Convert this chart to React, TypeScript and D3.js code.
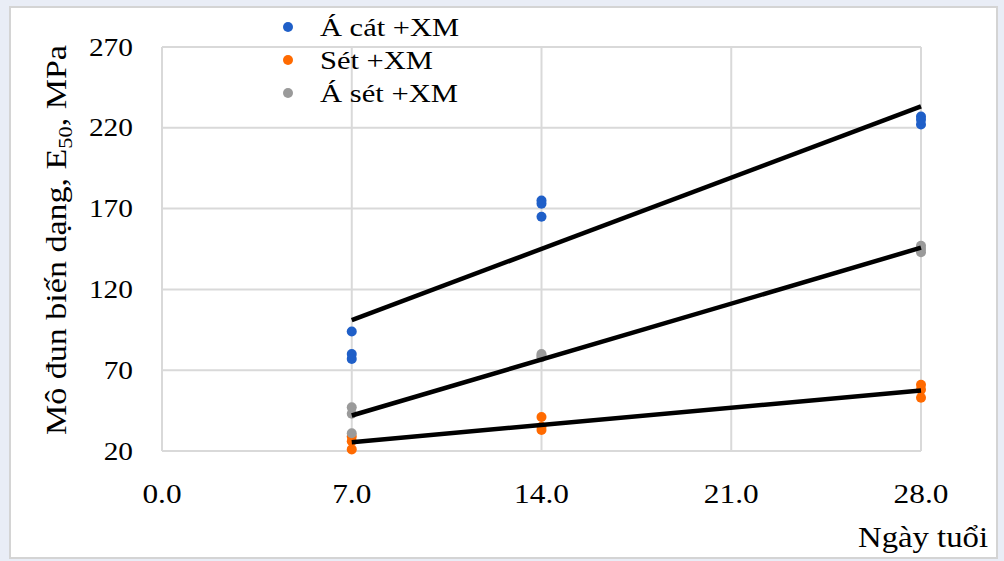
import * as d3 from "d3";

const ages = [7, 14, 28];
// three samples per age
const acatValues = [[94, 80, 77], [175, 173, 165], [227, 222, 225]];
const setValues = [[29, 26, 21], [41, 35, 33], [61, 58, 53]];
const asetValues = [[47, 43, 31], [80, 79, 78], [147, 145, 143]];

const seriesNames = ["Á cát +XM", "Sét +XM", "Á sét +XM"];
const seriesColors = ["#1f5fc8", "#ff6a00", "#9a9a9a"];
const legendWidths = [139, 113, 138];

const xTicks = [0, 7, 14, 21, 28];
const yTicks = [20, 70, 120, 170, 220, 270];

const width = 1004;
const height = 561;
const plot = { left: 162, right: 921, top: 47, bottom: 451 };
const sx = 1.13;

const txt = (size: number) => ({ fontFamily: "Liberation Serif", fontSize: `${size}px` });

type Pt = { x: number; y: number };

const toPoints = (vals: number[][]): Pt[] =>
  ages.flatMap((a, i) => vals[i].map((v) => ({ x: a, y: v })));

// least squares fit, like Excel's linear trendline
const fit = (pts: Pt[]) => {
  const mx = d3.mean(pts, (p) => p.x) ?? 0;
  const my = d3.mean(pts, (p) => p.y) ?? 0;
  const sxy = d3.sum(pts, (p) => (p.x - mx) * (p.y - my));
  const sxx = d3.sum(pts, (p) => (p.x - mx) ** 2);
  const slope = sxy / sxx;
  return (x: number) => my + slope * (x - mx);
};

const x = d3.scaleLinear().domain([0, 28]).range([plot.left, plot.right]);
const y = d3.scaleLinear().domain([20, 270]).range([plot.bottom, plot.top]);
const line = d3
  .line<Pt>()
  .x((d) => x(d.x))
  .y((d) => y(d.y));

const series = [acatValues, setValues, asetValues].map(toPoints);

const App = () => (
  <svg
    width={width}
    height={height}
    style={{ position: "absolute", left: 0, top: 0, display: "block" }}
  >
    <rect width={width} height={height} fill="#e9edf6" />
    <rect x={10} y={7} width={987} height={551} fill="#fff" stroke="#d4d4d4" strokeWidth={2} />

    {yTicks.map((t) => (
      <line key={`gy${t}`} x1={plot.left} x2={plot.right} y1={y(t)} y2={y(t)} stroke="#d9d9d9" strokeWidth={2} />
    ))}
    {xTicks.map((t) => (
      <line key={`gx${t}`} x1={x(t)} x2={x(t)} y1={plot.top} y2={plot.bottom} stroke="#d9d9d9" strokeWidth={2} />
    ))}

    {yTicks.map((t) => (
      <g key={`ly${t}`} transform={`translate(133,${y(t)}) scale(${sx},1)`}>
        <text textAnchor="end" dy="0.33em" style={txt(26)} fill="#000">
          {d3.format("d")(t)}
        </text>
      </g>
    ))}
    {xTicks.map((t) => (
      <g key={`lx${t}`} transform={`translate(${x(t)},503) scale(${sx + 0.03},1)`}>
        <text textAnchor="middle" style={txt(27)} fill="#000">
          {d3.format(".1f")(t)}
        </text>
      </g>
    ))}

    {series.map((pts, i) => (
      <g key={`s${i}`}>
        {pts.map((p, j) => (
          <circle key={j} cx={x(p.x)} cy={y(p.y)} r={5} fill={seriesColors[i]} />
        ))}
      </g>
    ))}

    {series.map((pts, i) => {
      const f = fit(pts);
      const ends = d3.extent(pts, (p) => p.x) as [number, number];
      return (
        <path
          key={`t${i}`}
          d={line(ends.map((a) => ({ x: a, y: f(a) }))) ?? ""}
          fill="none"
          stroke="#000"
          strokeWidth={4.5}
        />
      );
    })}

    {seriesNames.map((name, i) => (
      <g key={name} transform={`translate(288,${27 + i * 33})`}>
        <circle r={5} fill={seriesColors[i]} />
        <text
          x={32}
          y={9}
          style={txt(26)}
          fill="#000"
          textLength={legendWidths[i]}
          lengthAdjust="spacingAndGlyphs"
        >
          {name}
        </text>
      </g>
    ))}

    <text
      transform="translate(66,240) rotate(-90)"
      textAnchor="middle"
      style={txt(29)}
      fill="#000"
      textLength={390}
      lengthAdjust="spacingAndGlyphs"
    >
      Mô đun biến dạng, E
      <tspan style={txt(19)} dy={6}>
        50
      </tspan>
      <tspan dy={-6}>, MPa</tspan>
    </text>

    <text
      x={988}
      y={547}
      textAnchor="end"
      style={txt(30)}
      fill="#000"
      textLength={130}
      lengthAdjust="spacingAndGlyphs"
    >
      Ngày tuổi
    </text>
  </svg>
);

export default App;
